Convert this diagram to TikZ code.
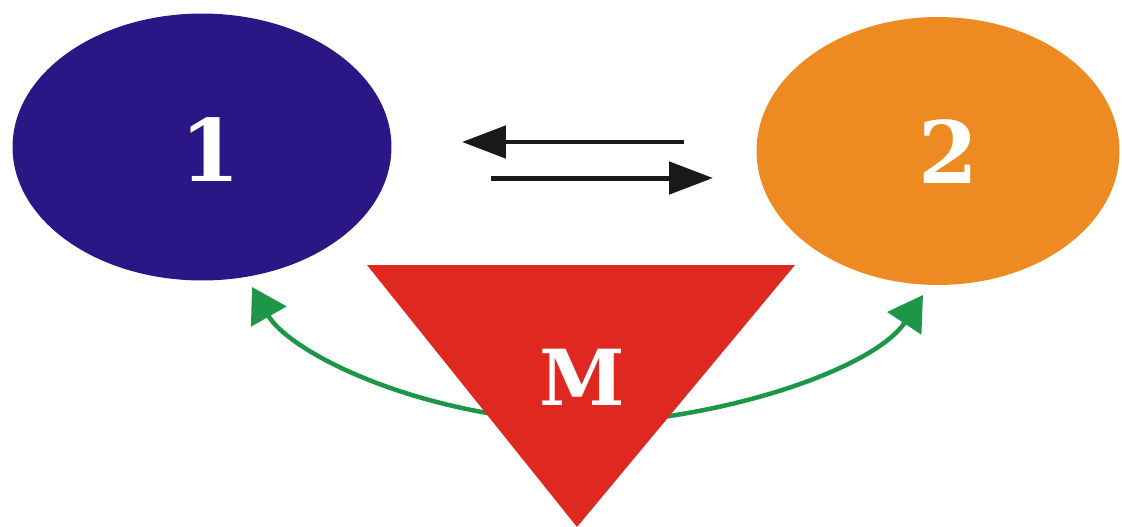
\documentclass[tikz,border=0pt]{standalone}
\usepackage{fontspec}
\newfontfamily\slabfont{DejaVu Serif}
\usetikzlibrary{arrows.meta,shapes.geometric}
\definecolor{blueA}{RGB}{42,22,132}
\definecolor{orangeA}{RGB}{238,138,34}
\definecolor{redA}{RGB}{222,40,32}
\definecolor{greenA}{RGB}{30,150,72}
\tikzset{
  blob/.style={ellipse, inner sep=0pt},
  numtext/.style={text=white, inner sep=0pt,
    font=\slabfont\bfseries\fontsize{49}{58}\selectfont},
  blackarrow/.style={draw=black!90, line width=0.1cm,
    -{Triangle[length=0.88cm,width=0.64cm]}},
  greenarrow/.style={draw=greenA, line width=0.09cm,
    -{Triangle[length=0.68cm,width=0.8cm]}},
  mtext/.style={text=white, inner sep=0pt,
    font=\slabfont\bfseries\fontsize{44}{52}\selectfont}
}
\begin{document}
\begin{tikzpicture}[x=0.02cm,y=-0.02cm]
\useasboundingbox (0,0) rectangle (1122,527);
% ellipses
\node[blob, fill=blueA, minimum width=7.58cm, minimum height=5.34cm] (e1) at (202,147) {};
\node[numtext] (n1) at (210,150) {1};
\node[blob, fill=orangeA, minimum width=7.26cm, minimum height=5.36cm] (e2) at (938,151) {};
\node[numtext] (n2) at (948,152) {2};
% black arrows
\coordinate (a1s) at (684,142);
\coordinate (a1e) at (462,142);
\coordinate (a2s) at (491,178);
\coordinate (a2e) at (713,178);
\draw[blackarrow] (a1s) -- (a1e);
\draw[blackarrow] (a2s) -- (a2e);
% green arrows (behind triangle)
\coordinate (g1s) at (520,418);
\coordinate (g1e) at (252,287);
\coordinate (g2s) at (640,420);
\coordinate (g2e) at (923,295);
\draw[greenarrow] (g1s) .. controls (380,400) and (285,345) .. (g1e);
\draw[greenarrow] (g2s) .. controls (770,405) and (880,360) .. (g2e);
% triangle
\coordinate (tl) at (367,265);
\coordinate (tr) at (795,265);
\coordinate (tb) at (577,527);
\fill[redA] (tl) -- (tr) -- (tb) -- cycle;
\node[mtext] (m) at (582,377) {M};
\end{tikzpicture}
\end{document}
